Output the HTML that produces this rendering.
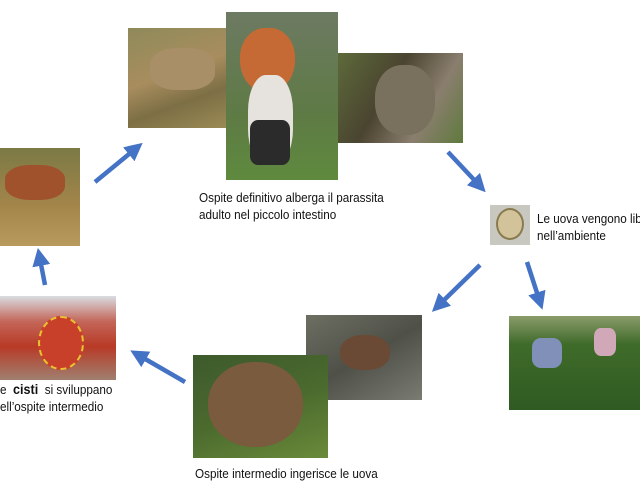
<!DOCTYPE html>
<html><head><meta charset="utf-8"><style>
body{margin:0;width:640px;height:486px;background:#fff;position:relative;overflow:hidden;font-family:"Liberation Sans",sans-serif;}
.p{position:absolute}
.t{position:absolute;font-size:13px;color:#111;line-height:17px;white-space:nowrap;transform:scaleX(0.9);transform-origin:left top}
</style></head><body>
<div class="p" style="left:128px;top:28px;width:98px;height:100px;background:linear-gradient(160deg,#8f8a5a,#a88d5e 45%,#7d6f45 70%,#9a8a55)"></div>
<div class="p" style="left:150px;top:48px;width:65px;height:42px;border-radius:40%;background:#a88f68"></div>
<div class="p" style="left:226px;top:12px;width:112px;height:168px;background:linear-gradient(180deg,#6d7a62,#5e7a45 60%,#5f8a3e)"></div>
<div class="p" style="left:240px;top:28px;width:55px;height:65px;border-radius:45% 45% 50% 50%;background:#c56a34"></div>
<div class="p" style="left:248px;top:75px;width:45px;height:90px;border-radius:40%;background:#e6e3de"></div>
<div class="p" style="left:250px;top:120px;width:40px;height:45px;background:#2b2b2b;border-radius:20%"></div>
<div class="p" style="left:338px;top:53px;width:125px;height:90px;background:linear-gradient(120deg,#5d6a3a,#4a4430 40%,#8a7e6e 70%,#5f7a3d)"></div>
<div class="p" style="left:375px;top:65px;width:60px;height:70px;border-radius:45%;background:#7a705e"></div>
<div class="p" style="left:0;top:148px;width:80px;height:98px;background:linear-gradient(180deg,#7b7a45,#a4854a 60%,#b99a5e)"></div>
<div class="p" style="left:5px;top:165px;width:60px;height:35px;border-radius:40%;background:#a0522d"></div>
<div class="p" style="left:490px;top:205px;width:40px;height:40px;background:#c8c8c0"></div>
<div class="p" style="left:496px;top:208px;width:28px;height:32px;border-radius:50%;background:#d3c39a;border:2px solid #8a7a50;box-sizing:border-box"></div>
<div class="p" style="left:0;top:296px;width:116px;height:84px;background:linear-gradient(180deg,#d9dde2,#c4675a 30%,#b83a26 60%,#a08070)"></div>
<div class="p" style="left:38px;top:316px;width:42px;height:50px;border-radius:50%;border:2px dashed #e8c030;background:#c8402a"></div>
<div class="p" style="left:306px;top:315px;width:116px;height:85px;background:linear-gradient(150deg,#6d6f62,#4f5048 50%,#7a7c72)"></div>
<div class="p" style="left:340px;top:335px;width:50px;height:35px;border-radius:45%;background:#6a4a34"></div>
<div class="p" style="left:193px;top:355px;width:135px;height:103px;background:linear-gradient(160deg,#3d5a2c,#4a6a2e 50%,#6a8a3a)"></div>
<div class="p" style="left:208px;top:362px;width:95px;height:85px;border-radius:48%;background:#7a5b3e"></div>
<div class="p" style="left:509px;top:316px;width:131px;height:94px;background:linear-gradient(180deg,#8a9c6a,#3f6b2a 30%,#2f5a22)"></div>
<div class="p" style="left:532px;top:338px;width:30px;height:30px;background:#8090b8;border-radius:30%"></div>
<div class="p" style="left:594px;top:328px;width:22px;height:28px;background:#d0a8b8;border-radius:30%"></div>
<svg class="p" style="left:0;top:0" width="640" height="486">
<defs><marker id="a" markerWidth="4" markerHeight="4" refX="1.5" refY="2" orient="auto"><path d="M0,0L4,2L0,4z" fill="#4472c4"/></marker></defs>
<g stroke="#4472c4" stroke-width="4.5" marker-end="url(#a)">
<line x1="95" y1="182" x2="134" y2="150"/>
<line x1="448" y1="152" x2="478" y2="184"/>
<line x1="480" y1="265" x2="440" y2="304"/>
<line x1="527" y1="262" x2="539" y2="299"/>
<line x1="185" y1="382" x2="140" y2="356"/>
<line x1="45" y1="285" x2="40" y2="259"/>
</g></svg>
<div class="t" style="left:199px;top:189px">Ospite definitivo alberga il parassita<br>adulto nel piccolo intestino</div>
<div class="t" style="left:537px;top:210px">Le uova vengono lib<br>nell’ambiente</div>
<div class="t" style="left:0;top:381px">e &nbsp;<b style="font-size:14px">cisti</b> &nbsp;si sviluppano<br>ell’ospite intermedio</div>
<div class="t" style="left:195px;top:465px">Ospite intermedio ingerisce le uova</div>
</body></html>
